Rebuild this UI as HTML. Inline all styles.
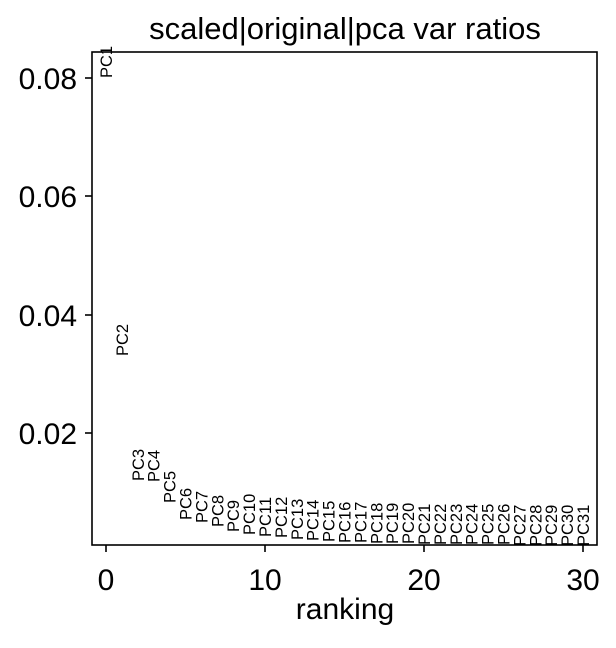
<!DOCTYPE html>
<html><head><meta charset="utf-8"><style>
body{margin:0;background:#fff}
text{font-family:"Liberation Sans",Arial,sans-serif;fill:#000}
</style></head><body>
<svg width="616" height="643" viewBox="0 0 616 643" xmlns="http://www.w3.org/2000/svg">
<rect width="616" height="643" fill="#fff"/>
<text x="345" y="39" font-size="31" text-anchor="middle">scaled|original|pca var ratios</text>
<rect x="92" y="52" width="505" height="493" fill="none" stroke="#000" stroke-width="1.6"/>
<g stroke="#000" stroke-width="1.6">
<line x1="92" y1="78" x2="85" y2="78"/><line x1="92" y1="196" x2="85" y2="196"/>
<line x1="92" y1="315" x2="85" y2="315"/><line x1="92" y1="433" x2="85" y2="433"/>
<line x1="106" y1="545" x2="106" y2="552"/><line x1="265" y1="545" x2="265" y2="552"/>
<line x1="424" y1="545" x2="424" y2="552"/><line x1="583" y1="545" x2="583" y2="552"/>
</g>
<g font-size="30" text-anchor="end">
<text x="77" y="89">0.08</text><text x="77" y="207">0.06</text>
<text x="77" y="326">0.04</text><text x="77" y="444">0.02</text>
</g>
<g font-size="30" text-anchor="middle">
<text x="106" y="590">0</text><text x="265" y="590">10</text>
<text x="424" y="590">20</text><text x="583" y="590">30</text>
<text x="345" y="619">ranking</text>
</g>
<g font-size="16.5">
<text transform="translate(112,78) rotate(-90)">PC1</text>
<text transform="translate(127.9,356) rotate(-90)">PC2</text>
<text transform="translate(143.8,481) rotate(-90)">PC3</text>
<text transform="translate(159.7,482) rotate(-90)">PC4</text>
<text transform="translate(175.6,503) rotate(-90)">PC5</text>
<text transform="translate(191.5,520) rotate(-90)">PC6</text>
<text transform="translate(207.4,523) rotate(-90)">PC7</text>
<text transform="translate(223.3,527) rotate(-90)">PC8</text>
<text transform="translate(239.2,532) rotate(-90)">PC9</text>
<text transform="translate(255.1,535) rotate(-90)">PC10</text>
<text transform="translate(271,537) rotate(-90)">PC11</text>
<text transform="translate(286.9,538) rotate(-90)">PC12</text>
<text transform="translate(302.8,540) rotate(-90)">PC13</text>
<text transform="translate(318.7,541) rotate(-90)">PC14</text>
<text transform="translate(334.6,542) rotate(-90)">PC15</text>
<text transform="translate(350.5,543) rotate(-90)">PC16</text>
<text transform="translate(366.4,543) rotate(-90)">PC17</text>
<text transform="translate(382.3,544) rotate(-90)">PC18</text>
<text transform="translate(398.2,544) rotate(-90)">PC19</text>
<text transform="translate(414.1,544) rotate(-90)">PC20</text>
<text transform="translate(430,545) rotate(-90)">PC21</text>
<text transform="translate(445.9,545) rotate(-90)">PC22</text>
<text transform="translate(461.8,545) rotate(-90)">PC23</text>
<text transform="translate(477.7,545) rotate(-90)">PC24</text>
<text transform="translate(493.6,545) rotate(-90)">PC25</text>
<text transform="translate(509.5,545) rotate(-90)">PC26</text>
<text transform="translate(525.4,546) rotate(-90)">PC27</text>
<text transform="translate(541.3,546) rotate(-90)">PC28</text>
<text transform="translate(557.2,546) rotate(-90)">PC29</text>
<text transform="translate(573.1,546) rotate(-90)">PC30</text>
<text transform="translate(589,546) rotate(-90)">PC31</text>
</g>
</svg>
</body></html>
